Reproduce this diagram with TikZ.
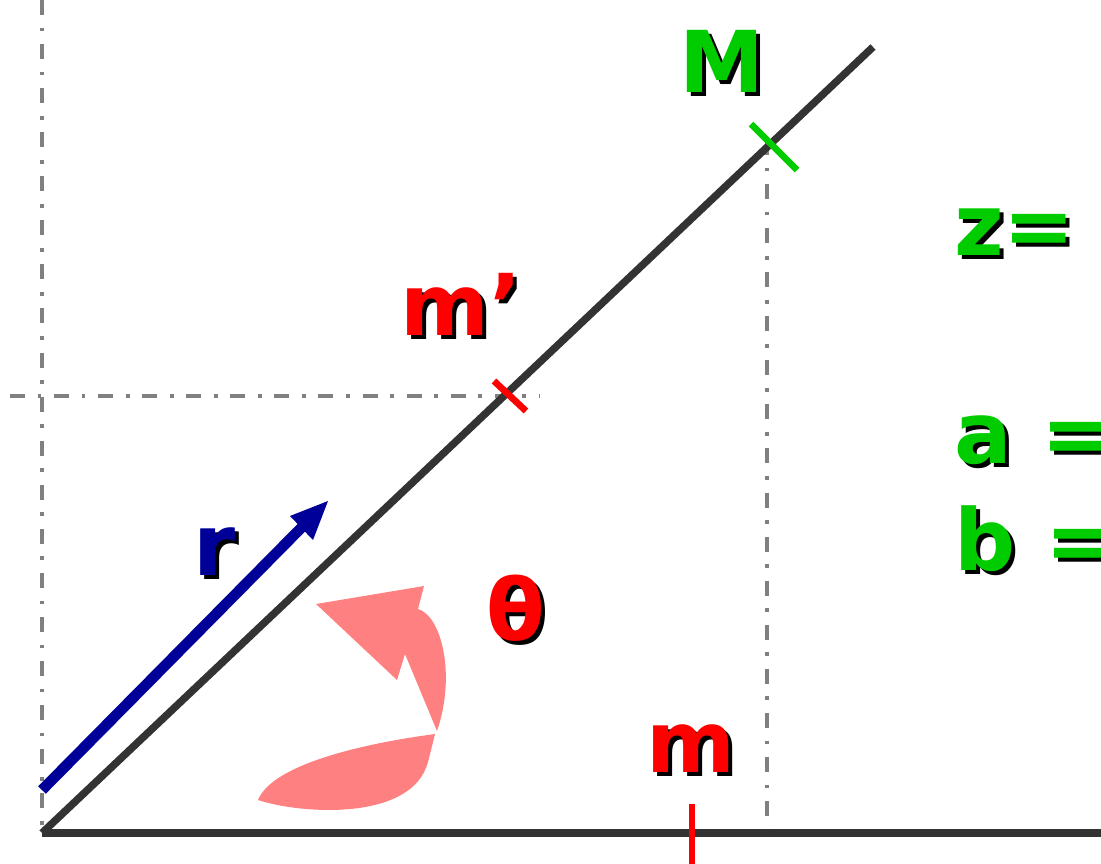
\documentclass[tikz,border=0pt]{standalone}
\usepackage{fontspec}
\setmainfont{DejaVu Sans}
\definecolor{dgray}{HTML}{333333}
\definecolor{mgray}{HTML}{808080}
\definecolor{gr}{HTML}{00CC00}
\definecolor{rd}{HTML}{FF0000}
\definecolor{bl}{HTML}{000099}
\definecolor{pk}{HTML}{FF8080}
\newcommand\shlabel[4]{%
  \node[lbl,text=black,xshift=3pt,yshift=-3pt] (#1s) at #2 {#4};
  \node[lbl,text=#3] (#1) at #2 {#4};}
\begin{document}
\begin{tikzpicture}[x=0.75pt,y=-0.75pt,
  lbl/.style={font=\fontsize{64}{64}\selectfont\bfseries,inner sep=0,anchor=base west},
  axisline/.style={draw=dgray,line width=5.6pt},
  guide/.style={draw=mgray,line width=2.8pt,dash pattern=on 11.25pt off 9.5pt on 2.8pt off 9.5pt},
  tick/.style={line width=5pt}]
\useasboundingbox (0,0) rectangle (1101,864);
\coordinate (O) at (42,833);
\coordinate (E) at (873,47);
\coordinate (X) at (1101,833);
% guides
\draw[guide] (42,0) -- (O);
\draw[guide] (10,396) -- (540,396);
\draw[guide] (767,140) -- (767,833);
% axes
\draw[axisline] (O) -- (X);
\draw[axisline] (O) -- (E);
% ticks
\draw[tick,draw=gr] (751,124) -- (797,170);
\draw[tick,draw=rd] (494,381) -- (526,411);
\draw[tick,draw=rd] (692,804) -- (692,864);
% r vector
\coordinate (rA) at (42,790);
\coordinate (rB) at (308,521);
\draw[draw=bl,line width=8pt] (rA) -- (rB);
\fill[bl] (328,501) -- (290,516) -- (313,540) -- cycle;
% theta arrow
\fill[pk] (437,731) -- (405,654) -- (397,680) -- (316,604) -- (424,586) -- (418,609)
  .. controls (442,616) and (456,676) .. (437,731) -- cycle;
\fill[pk] (435,734) .. controls (360,744) and (272,765) .. (258,800)
  .. controls (300,814) and (412,822) .. (428,762) -- cycle;
% labels
\shlabel{M}{(679,92)}{gr}{M}
\shlabel{z}{(954,255)}{gr}{z=}
\shlabel{a}{(954,463)}{gr}{a =}
\shlabel{b}{(954,570)}{gr}{b =}
\shlabel{mp}{(400,335)}{rd}{m’}
\shlabel{r}{(193,575)}{bl}{r}
\shlabel{th}{(486,640)}{rd}{θ}
\shlabel{m}{(646,772)}{rd}{m}
\end{tikzpicture}
\end{document}
